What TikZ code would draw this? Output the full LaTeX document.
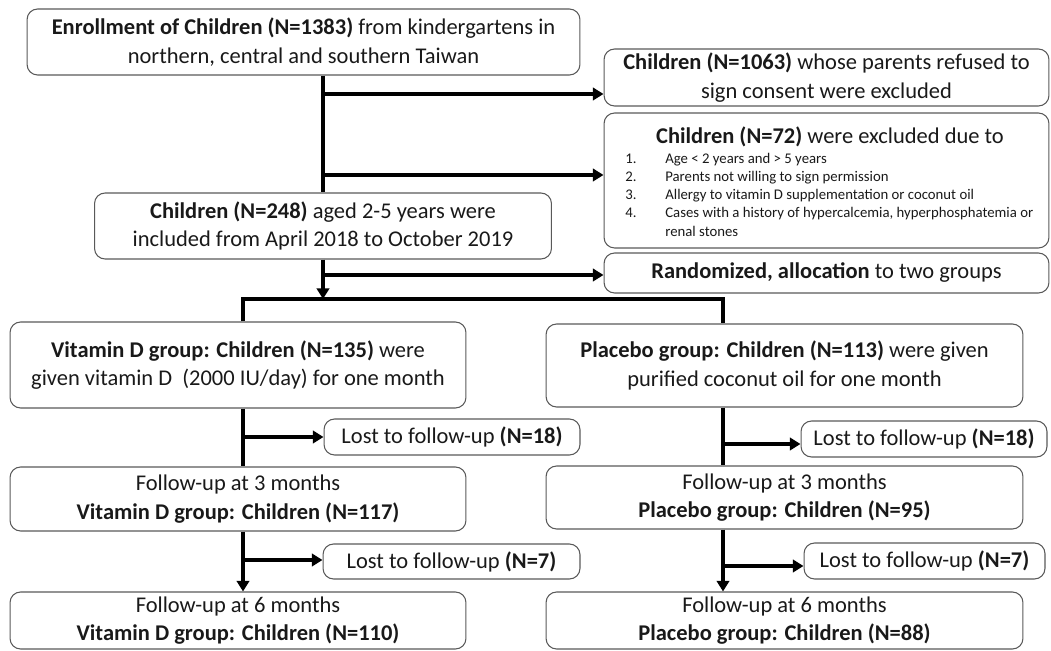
\documentclass[tikz,border=0pt]{standalone}
\usepackage{fontspec}
\setmainfont{Carlito}
\usepackage{tikz}
\usetikzlibrary{arrows.meta}
\newcommand{\boxfont}{\fontsize{12.8}{16.1}\selectfont}
\newcommand{\listfont}{\fontsize{8.4}{10.4}\selectfont}
\tikzset{
  box/.style={draw=black!65, line width=0.6pt, rounded corners=6pt, align=center, inner sep=0pt, font=\boxfont, text=black!90},
  flow/.style={line width=2pt},
  flowarr/.style={line width=2pt, -{Triangle[length=6pt,width=7pt]}}
}

\begin{document}
\begin{tikzpicture}[x=0.02cm, y=-0.02cm]
		\useasboundingbox (0,0) rectangle (1051,651);
		% Enrollment and exclusions
		\node[box, minimum width=11.06cm, minimum height=1.32cm] (enrol) at (303.5,42) {\textbf{Enrollment of Children (N=1383)} from kindergartens in\\northern, central and southern Taiwan};
		\node[box, minimum width=8.9cm, minimum height=1.14cm] (refused) at (826.5,77.5) {\textbf{Children (N=1063)} whose parents refused to\\sign consent were excluded};
		\node[box, minimum width=8.9cm, minimum height=2.7cm] (excl) at (826.5,180.5) {};
		\node[font=\boxfont, text=black!90, inner sep=0pt] (excltitle) at (830,137) {\textbf{Children (N=72)} were excluded due to};
		\node[font=\listfont, text=black!90, anchor=north west, inner sep=0pt] (excllist) at (625,150) {%
			\begin{tabular}{@{}p{0.8cm}@{}p{7.7cm}@{}}
				1. & Age < 2 years and > 5 years\\
				2. & Parents not willing to sign permission\\
				3. & Allergy to vitamin D supplementation or coconut oil\\
				4. & Cases with a history of hypercalcemia, hyperphosphatemia or\newline renal stones
			\end{tabular}};
		\node[box, minimum width=9.14cm, minimum height=1.32cm] (incl) at (323,226) {\textbf{Children (N=248)} aged 2-5 years were\\included from April 2018 to October 2019};
		\node[box, minimum width=8.9cm, minimum height=0.8cm] (rand) at (826.5,273) {\textbf{Randomized, allocation} to two groups};
		% Two groups
		\node[box, minimum width=9.12cm, minimum height=1.72cm] (vitd) at (238,365) {\textbf{Vitamin D group: Children (N=135)} were\\given vitamin D\ \ (2000 IU/day) for one month};
		\node[box, minimum width=9.54cm, minimum height=1.66cm] (plac) at (784.5,365.5) {\textbf{Placebo group: Children (N=113)} were given\\purified coconut oil for one month};
		\node[box, minimum width=5.12cm, minimum height=0.72cm] (lostv3) at (452,437) {Lost to follow-up \textbf{(N=18)}};
		\node[box, minimum width=4.92cm, minimum height=0.72cm] (lostp3) at (924,439) {Lost to follow-up \textbf{(N=18)}};
		\node[box, minimum width=9.12cm, minimum height=1.28cm] (fuv3) at (238,499) {Follow-up at 3 months\\\textbf{Vitamin D group: Children (N=117)}};
		\node[box, minimum width=9.54cm, minimum height=1.26cm] (fup3) at (784.5,497.5) {Follow-up at 3 months\\\textbf{Placebo group: Children (N=95)}};
		\node[box, minimum width=5.14cm, minimum height=0.7cm] (lostv6) at (451.5,561.5) {Lost to follow-up \textbf{(N=7)}};
		\node[box, minimum width=4.82cm, minimum height=0.72cm] (lostp6) at (924.5,561) {Lost to follow-up \textbf{(N=7)}};
		\node[box, minimum width=9.12cm, minimum height=1.14cm] (fuv6) at (238,620.5) {Follow-up at 6 months\\\textbf{Vitamin D group: Children (N=110)}};
		\node[box, minimum width=9.54cm, minimum height=1.14cm] (fup6) at (784.5,620.5) {Follow-up at 6 months\\\textbf{Placebo group: Children (N=88)}};
		% Junctions
		\coordinate (t1) at (323,94);
		\coordinate (t2) at (323,175);
		\coordinate (t3) at (323,275);
		\coordinate (bl) at (243,299);
		\coordinate (br) at (723,299);
		\coordinate (l1) at (243,437);
		\coordinate (l2) at (243,560);
		\coordinate (r1) at (723,444);
		\coordinate (r2) at (723,566);
		% Main trunk
		\draw[flow] (incl.north |- enrol.south) -- (incl.north);
		\draw[flowarr] (t1) -- (t1 -| refused.west);
		\draw[flowarr] (t2) -- (t2 -| excl.west);
		\draw[flowarr] (incl.south) -- (incl.south |- bl);
		\draw[flowarr] (t3) -- (t3 -| rand.west);
		\draw[flow] (vitd.north -| bl) -- (bl) -- (br) -- (br |- plac.north);
		% Vitamin D arm
		\draw[flow] (vitd.south -| l1) -- (fuv3.north -| l1);
		\draw[flowarr] (l1) -- (l1 -| lostv3.west);
		\draw[flowarr] (fuv3.south -| l2) -- (fuv6.north -| l2);
		\draw[flowarr] (l2) -- (l2 -| lostv6.west);
		% Placebo arm
		\draw[flow] (plac.south -| r1) -- (fup3.north -| r1);
		\draw[flowarr] (r1) -- (r1 -| lostp3.west);
		\draw[flowarr] (fup3.south -| r2) -- (fup6.north -| r2);
		\draw[flowarr] (r2) -- (r2 -| lostp6.west);
\end{tikzpicture}
\end{document}
